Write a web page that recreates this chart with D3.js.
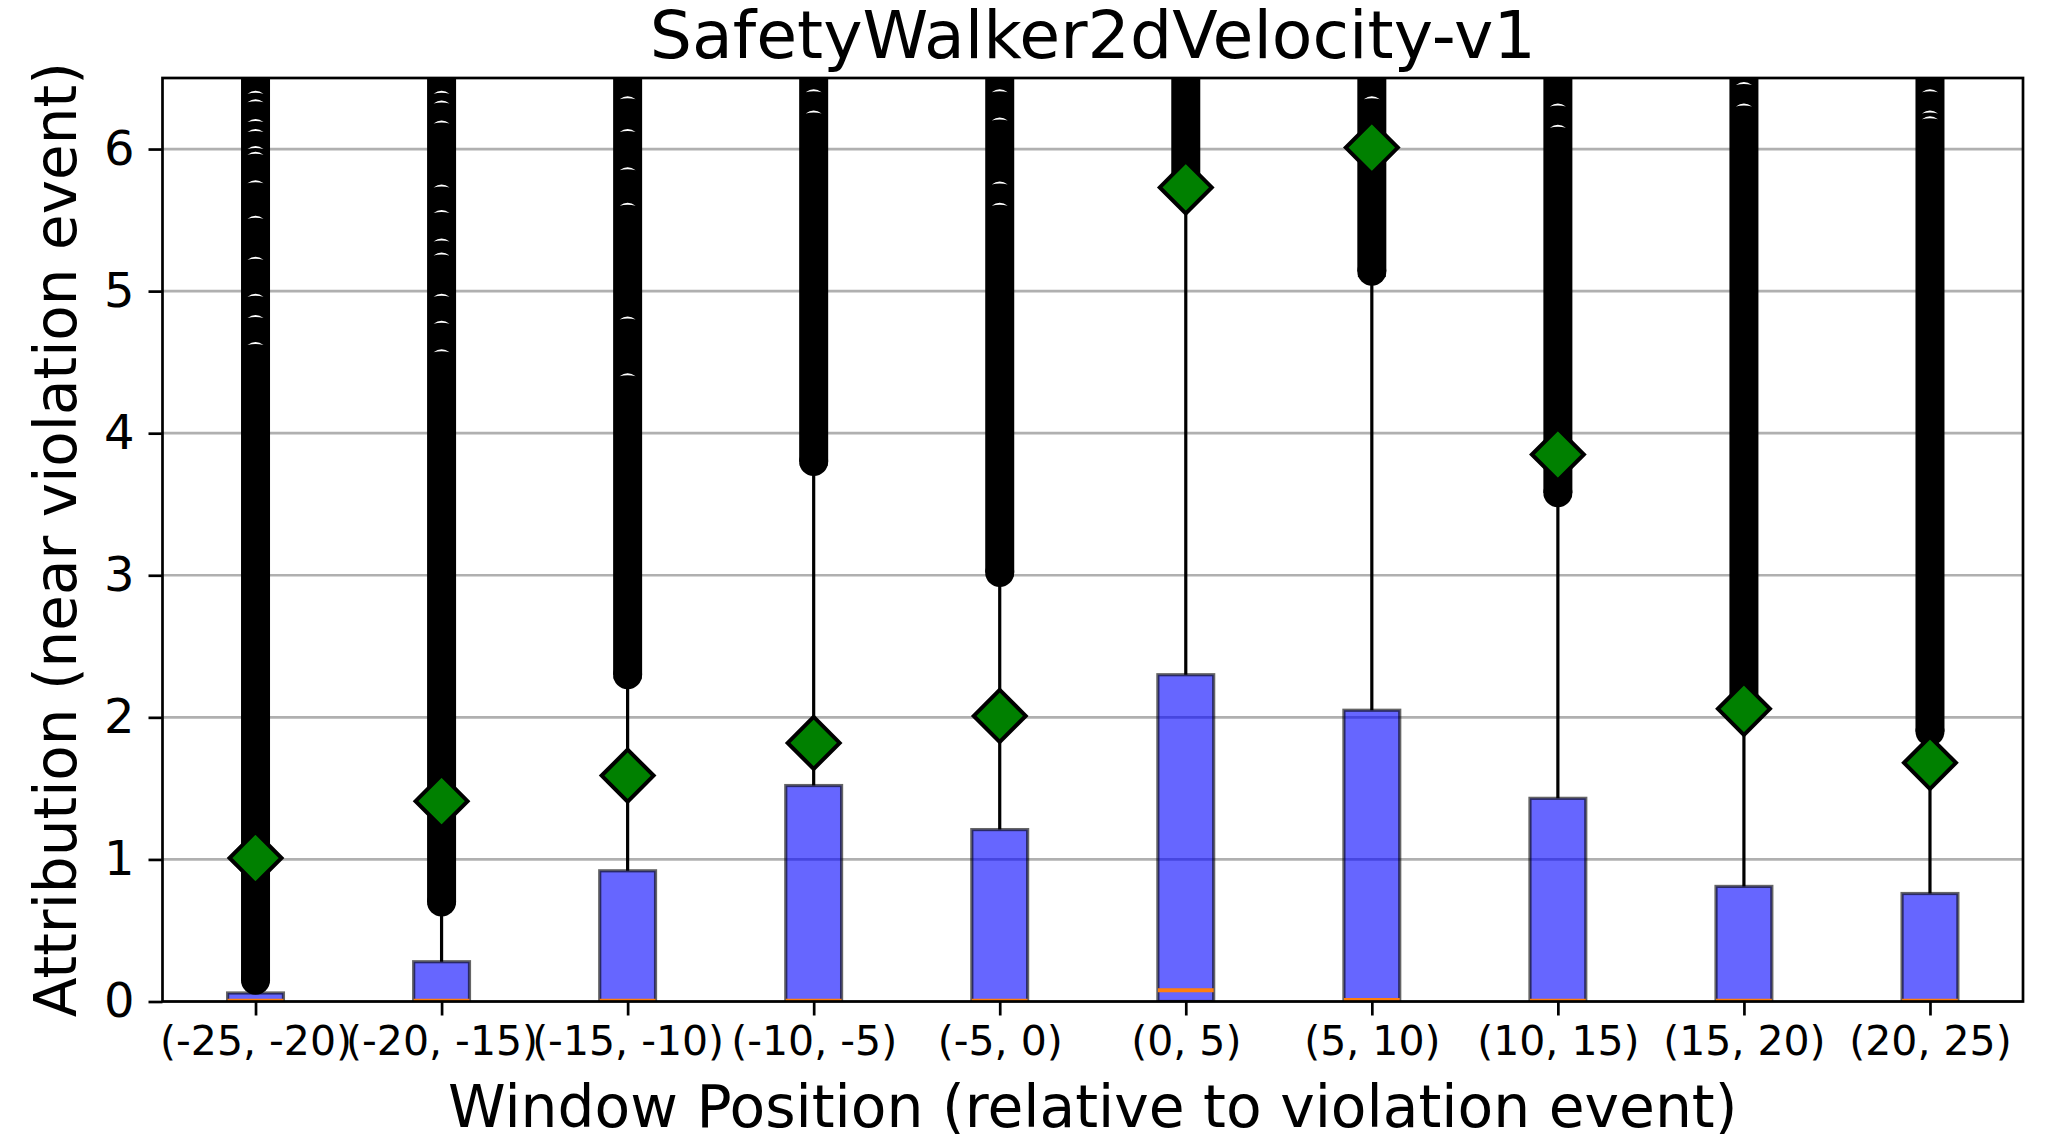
<!DOCTYPE html>
<html>
<head>
<meta charset="utf-8">
<script src="https://cdn.jsdelivr.net/npm/d3@7"></script>
<style>
  body { margin: 0; background: #fff; }
  svg { display: block; font-family: 'DejaVu Sans', sans-serif; }
</style>
</head>
<body>
<div id="chart"></div>
<script>
const categories = ['(-25, -20)', '(-20, -15)', '(-15, -10)', '(-10, -5)', '(-5, 0)',
  '(0, 5)', '(5, 10)', '(10, 15)', '(15, 20)', '(20, 25)'];

// box stats
const q1 = [0, 0, 0, 0, 0, 0, 0, 0, 0, 0];
const medians = [0.005, 0.005, 0.005, 0.005, 0.005, 0.08, 0.01, 0.005, 0.005, 0.005];
const q3 = [0.06, 0.28, 0.92, 1.52, 1.21, 2.30, 2.05, 1.43, 0.81, 0.76];
const whiskerHi = [0.14, 0.69, 2.28, 3.78, 3.00, 5.73, 5.11, 3.56, 2.02, 1.89];
const means = [1.01, 1.41, 1.59, 1.82, 2.01, 5.73, 6.01, 3.85, 2.06, 1.68];

// outliers: dense from flierLo up past the top of the axis
const flierLo = [0.15, 0.70, 2.30, 3.80, 3.02, 5.76, 5.14, 3.58, 2.04, 1.90];
const flierHi = [7, 7, 7, 7, 7, 7, 7, 7, 7, 7];
// places where single outlier rings leave a white gap in the dense column
const flierGaps = [
  [6.39, 6.33, 6.19, 6.12, 6.00, 5.96, 5.76, 5.51, 5.22, 4.96, 4.81, 4.62],
  [6.39, 6.32, 6.18, 5.73, 5.55, 5.35, 5.25, 4.96, 4.77, 4.57],
  [6.35, 6.12, 5.85, 5.60, 4.80, 4.40],
  [6.40, 6.25],
  [6.40, 6.20, 5.75, 5.60],
  [],
  [6.35],
  [6.30, 6.15],
  [6.45, 6.30],
  [6.40, 6.25, 6.21]
];

const yTicks = [0, 1, 2, 3, 4, 5, 6];

const width = 2047;
const height = 1134;
const margin = { top: 78, right: 24, bottom: 132.5, left: 162.5 };

const svg = d3.select('#chart').append('svg')
  .attr('width', width)
  .attr('height', height);

const x = d3.scaleLinear()
  .domain([0.5, categories.length + 0.5])
  .range([margin.left, width - margin.right]);

const y = d3.scaleLinear()
  .domain([0, 6.5])
  .range([height - margin.bottom, margin.top]);

const step = x(2) - x(1);
const boxW = step * 0.3;

svg.append('defs').append('clipPath')
  .attr('id', 'plot-clip')
  .append('rect')
  .attr('x', margin.left)
  .attr('y', margin.top)
  .attr('width', x.range()[1] - margin.left)
  .attr('height', y(0) - margin.top);

// grid
svg.append('g')
  .selectAll('line')
  .data(yTicks)
  .join('line')
  .attr('x1', margin.left)
  .attr('x2', x.range()[1])
  .attr('y1', d => y(d))
  .attr('y2', d => y(d))
  .attr('stroke', '#b0b0b0')
  .attr('stroke-width', 2.7);

const plot = svg.append('g').attr('clip-path', 'url(#plot-clip)');
const idx = d3.range(categories.length);

// whiskers + caps
plot.append('g')
  .selectAll('line')
  .data(idx)
  .join('line')
  .attr('x1', i => x(i + 1))
  .attr('x2', i => x(i + 1))
  .attr('y1', i => y(q3[i]))
  .attr('y2', i => y(whiskerHi[i]))
  .attr('stroke', '#000')
  .attr('stroke-width', 3.2);

plot.append('g')
  .selectAll('line')
  .data(idx)
  .join('line')
  .attr('x1', i => x(i + 1) - boxW / 4)
  .attr('x2', i => x(i + 1) + boxW / 4)
  .attr('y1', i => y(whiskerHi[i]))
  .attr('y2', i => y(whiskerHi[i]))
  .attr('stroke', '#000')
  .attr('stroke-width', 3.2);

// boxes
plot.append('g')
  .selectAll('rect')
  .data(idx)
  .join('rect')
  .attr('x', i => x(i + 1) - boxW / 2)
  .attr('width', boxW)
  .attr('y', i => y(q3[i]))
  .attr('height', i => y(q1[i]) - y(q3[i]))
  .attr('fill', 'blue')
  .attr('fill-opacity', 0.6)
  .attr('stroke', '#000')
  .attr('stroke-opacity', 0.6)
  .attr('stroke-width', 3.2);

// medians
plot.append('g')
  .selectAll('line')
  .data(idx)
  .join('line')
  .attr('x1', i => x(i + 1) - boxW / 2)
  .attr('x2', i => x(i + 1) + boxW / 2)
  .attr('y1', i => y(medians[i]))
  .attr('y2', i => y(medians[i]))
  .attr('stroke', '#ff7f0e')
  .attr('stroke-width', 4);

// fliers: the rings overlap into a solid column
const flierR = 14.5;
const fliers = plot.append('g').attr('fill', '#000');
fliers.selectAll('rect')
  .data(idx)
  .join('rect')
  .attr('x', i => x(i + 1) - flierR)
  .attr('width', flierR * 2)
  .attr('y', i => y(flierHi[i]))
  .attr('height', i => y(flierLo[i]) - y(flierHi[i]));
fliers.selectAll('circle')
  .data(idx)
  .join('circle')
  .attr('cx', i => x(i + 1))
  .attr('cy', i => y(flierLo[i]))
  .attr('r', flierR);

// thin crescent-like gaps
plot.append('g')
  .selectAll('path')
  .data(idx.flatMap(i => flierGaps[i].map(v => ({ i, v }))))
  .join('path')
  .attr('d', d => {
    const cx = x(d.i + 1);
    const cy = y(d.v);
    return `M${cx - 8},${cy}Q${cx},${cy - 6} ${cx + 8},${cy}Q${cx},${cy - 2} ${cx - 8},${cy}Z`;
  })
  .attr('fill', '#fff');

// means
const dR = 26;
plot.append('g')
  .selectAll('path')
  .data(idx)
  .join('path')
  .attr('d', i => {
    const cx = x(i + 1);
    const cy = y(means[i]);
    return `M${cx},${cy - dR}L${cx + dR},${cy}L${cx},${cy + dR}L${cx - dR},${cy}Z`;
  })
  .attr('fill', 'green')
  .attr('stroke', '#000')
  .attr('stroke-width', 4)
  .attr('stroke-linejoin', 'miter');

// axes
const xAxis = svg.append('g')
  .attr('transform', `translate(0,${y(0)})`)
  .call(d3.axisBottom(x)
    .tickValues(idx.map(i => i + 1))
    .tickFormat(d => categories[d - 1])
    .tickSize(14)
    .tickPadding(10));
xAxis.select('.domain').remove();
xAxis.selectAll('.tick line').attr('stroke-width', 2.7);
xAxis.selectAll('.tick text')
  .attr('font-size', 41)
  .attr('font-family', 'DejaVu Sans')
  .attr('fill', '#000');

const yAxis = svg.append('g')
  .attr('transform', `translate(${margin.left},0)`)
  .call(d3.axisLeft(y)
    .tickValues(yTicks)
    .tickFormat(d3.format('d'))
    .tickSize(14)
    .tickPadding(14));
yAxis.select('.domain').remove();
yAxis.selectAll('.tick line').attr('stroke-width', 2.7);
yAxis.selectAll('.tick text')
  .attr('font-size', 48)
  .attr('font-family', 'DejaVu Sans')
  .attr('fill', '#000');

// frame
svg.append('rect')
  .attr('x', margin.left)
  .attr('y', margin.top)
  .attr('width', x.range()[1] - margin.left)
  .attr('height', y(0) - margin.top)
  .attr('fill', 'none')
  .attr('stroke', '#000')
  .attr('stroke-width', 2.7);

// labels
svg.append('text')
  .attr('x', (margin.left + x.range()[1]) / 2)
  .attr('y', 58)
  .attr('text-anchor', 'middle')
  .attr('font-size', 66.5)
  .text('SafetyWalker2dVelocity-v1');

svg.append('text')
  .attr('x', (margin.left + x.range()[1]) / 2)
  .attr('y', 1127)
  .attr('text-anchor', 'middle')
  .attr('font-size', 58.3)
  .text('Window Position (relative to violation event)');

svg.append('text')
  .attr('transform', `translate(76,${(margin.top + y(0)) / 2}) rotate(-90)`)
  .attr('text-anchor', 'middle')
  .attr('font-size', 58)
  .text('Attribution (near violation event)');
</script>
</body>
</html>
